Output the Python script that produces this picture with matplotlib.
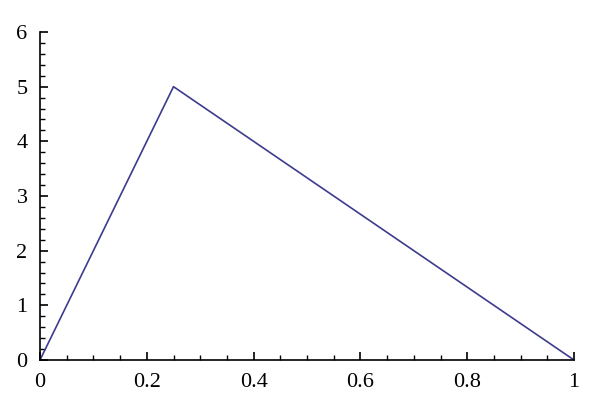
import matplotlib
matplotlib.use("Agg")
import matplotlib.pyplot as plt
from matplotlib.ticker import MultipleLocator

x_vals = [0.0, 0.25, 1.0]
y_vals = [0.0, 5.0, 0.0]
x_ticks = [0, 0.2, 0.4, 0.6, 0.8, 1]
x_labels = ["0", "0.2", "0.4", "0.6", "0.8", "1"]
y_ticks = [0, 1, 2, 3, 4, 5, 6]
y_labels = ["0", "1", "2", "3", "4", "5", "6"]

plt.rcParams['font.family'] = ['Liberation Serif', 'DejaVu Serif']

fig = plt.figure(figsize=(6, 4.11), dpi=100)
ax = fig.add_axes([40/600, 51/411, 534/600, 328/411])
ax.plot(x_vals, y_vals, color='#3d3b8e', lw=1.2, clip_on=False)
ax.set_xlim(0, 1)
ax.set_ylim(0, 6)
for s in ['top', 'right']:
    ax.spines[s].set_visible(False)
for s in ['left', 'bottom']:
    ax.spines[s].set_linewidth(1.2)
ax.set_xticks(x_ticks)
ax.set_xticklabels(x_labels)
ax.set_yticks(y_ticks)
ax.set_yticklabels(y_labels)
ax.xaxis.set_minor_locator(MultipleLocator(0.05))
ax.yaxis.set_minor_locator(MultipleLocator(0.2))
ax.tick_params(which='major', direction='in', length=6, width=1.2, labelsize=16)
ax.tick_params(which='minor', direction='in', length=3.5, width=1.0)
ax.tick_params(axis='x', which='major', pad=9)
ax.tick_params(axis='y', which='major', pad=9)
fig.savefig('out.png', dpi=100)
